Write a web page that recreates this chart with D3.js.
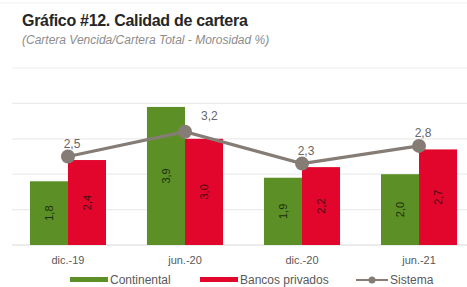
<!DOCTYPE html>
<html>
<head>
<meta charset="utf-8">
<script src="https://cdn.jsdelivr.net/npm/d3@7"></script>
<style>
  body { margin: 0; background: #fff; }
  text { font-family: "Liberation Sans", Arial, sans-serif; }
</style>
</head>
<body>
<div id="container"></div>
<script>
// chart data
const categories = ["dic.-19", "jun.-20", "dic.-20", "jun.-21"];
const continental = [1.8, 3.9, 1.9, 2.0];
const bancosPrivados = [2.4, 3.0, 2.2, 2.7];
const sistema = [2.5, 3.2, 2.3, 2.8];
const yTicks = [0, 1, 2, 3, 4, 5];
const seriesNames = ["Continental", "Bancos privados", "Sistema"];

const w = 467;
const h = 287;
const green = "#5d8f27";
const red = "#e2062d";
const grey = "#857d75";

const svg = d3.select("#container").append("svg")
  .attr("width", w)
  .attr("height", h);

// title
svg.append("text")
  .attr("x", 22).attr("y", 26)
  .attr("font-size", 16).attr("font-weight", "bold")
  .attr("fill", "#262626")
  .attr("letter-spacing", -0.3)
  .text("Gráfico #12. Calidad de cartera");
svg.append("text")
  .attr("x", 22).attr("y", 44)
  .attr("font-size", 12).attr("font-style", "italic")
  .attr("fill", "#8c8c8c")
  .text("(Cartera Vencida/Cartera Total - Morosidad %)");

svg.append("line")
  .attr("x1", 0).attr("x2", w).attr("y1", 3).attr("y2", 3)
  .attr("stroke", "#f0f0f0");

const xScale = d3.scaleBand()
  .domain(categories)
  .range([-11, 498])
  .padding(0.35);

const xInner = d3.scaleBand()
  .domain([0, 1])
  .range([0, xScale.bandwidth()]);

const yScale = d3.scaleLinear()
  .domain([0, 5])
  .range([245, 68]);

// grid
svg.append("g").selectAll("line")
  .data(yTicks).enter().append("line")
  .attr("x1", 12).attr("x2", w)
  .attr("y1", d => yScale(d)).attr("y2", d => yScale(d))
  .attr("stroke", d => d === 0 ? "#d9d9d9" : "#ececec")
  .attr("stroke-width", 1.2);

// bars
const bars = [
  { values: continental, color: green, text: "#1a300a" },
  { values: bancosPrivados, color: red, text: "#4a0812" }
];

bars.forEach((s, i) => {
  const g = svg.append("g");
  g.selectAll("rect")
    .data(s.values).enter().append("rect")
    .attr("x", (d, j) => xScale(categories[j]) + xInner(i))
    .attr("y", d => yScale(d))
    .attr("width", xInner.bandwidth())
    .attr("height", d => yScale(0) - yScale(d))
    .attr("fill", s.color);
  g.selectAll("text")
    .data(s.values).enter().append("text")
    .attr("transform", (d, j) => {
      const cx = xScale(categories[j]) + xInner(i) + xInner.bandwidth() / 2;
      const cy = (yScale(d) + yScale(0)) / 2;
      return `translate(${cx + 4},${cy}) rotate(-90)`;
    })
    .attr("text-anchor", "middle")
    .attr("font-size", 11)
    .attr("fill", s.text)
    .text(d => d.toFixed(1).replace(".", ","));
});

// sistema line
const cx = c => xScale(c) + xScale.bandwidth() / 2;
const line = d3.line()
  .x((d, j) => cx(categories[j]))
  .y(d => yScale(d));

svg.append("path")
  .datum(sistema)
  .attr("d", line)
  .attr("fill", "none")
  .attr("stroke", grey)
  .attr("stroke-width", 3.2);

svg.append("g").selectAll("circle")
  .data(sistema).enter().append("circle")
  .attr("cx", (d, j) => cx(categories[j]))
  .attr("cy", d => yScale(d))
  .attr("r", 7)
  .attr("fill", grey);

const sysLabelPos = ["top", "right", "top", "top"];
svg.append("g").selectAll("text")
  .data(sistema).enter().append("text")
  .attr("x", (d, j) => cx(categories[j]) + (sysLabelPos[j] === "right" ? 16 : 4))
  .attr("y", (d, j) => yScale(d) + (sysLabelPos[j] === "right" ? -12 : -9))
  .attr("text-anchor", (d, j) => sysLabelPos[j] === "right" ? "start" : "middle")
  .attr("font-size", 12)
  .attr("fill", "#666")
  .text(d => d.toFixed(1).replace(".", ","));

// x axis labels
const xAxis = d3.axisBottom(xScale).tickSize(0).tickPadding(6);
const ax = svg.append("g")
  .attr("transform", `translate(0, ${yScale(0) + 5})`)
  .call(xAxis);
ax.select(".domain").remove();
ax.selectAll("text")
  .attr("font-size", 11)
  .attr("fill", "#595959")
  .attr("font-family", "Liberation Sans, Arial, sans-serif");

// legend
const legend = svg.append("g").attr("transform", "translate(0, 280)");
const legendItems = [
  { name: seriesNames[0], color: green, x: 70, type: "bar" },
  { name: seriesNames[1], color: red, x: 200, type: "bar" },
  { name: seriesNames[2], color: grey, x: 356, type: "line" }
];
legendItems.forEach(it => {
  if (it.type === "bar") {
    legend.append("rect")
      .attr("x", it.x).attr("y", -3)
      .attr("width", 38).attr("height", 5)
      .attr("fill", it.color);
  } else {
    legend.append("line")
      .attr("x1", it.x).attr("x2", it.x + 32)
      .attr("y1", 0).attr("y2", 0)
      .attr("stroke", it.color).attr("stroke-width", 2);
    legend.append("circle")
      .attr("cx", it.x + 16).attr("cy", 0).attr("r", 3.5)
      .attr("fill", it.color);
  }
  legend.append("text")
    .attr("x", it.x + (it.type === "bar" ? 40 : 34))
    .attr("y", 4)
    .attr("font-size", 12)
    .attr("fill", "#595959")
    .text(it.name);
});
</script>
</body>
</html>
